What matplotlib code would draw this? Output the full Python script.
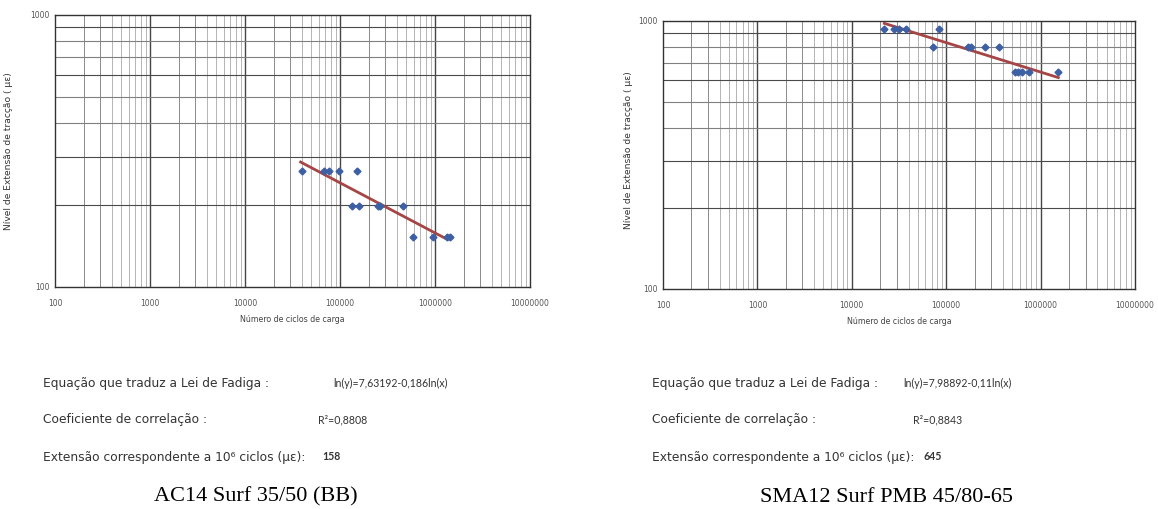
import numpy as np
import matplotlib
matplotlib.use("Agg")
import matplotlib.pyplot as plt
from matplotlib.ticker import FixedLocator, NullFormatter

# AC14 Surf 35/50 (BB) - fatigue test points and fitted law
ac14_cycles = [40100, 68400, 76600, 97500, 151000, 134000, 158000, 249000,
               264000, 465000, 583000, 953000, 1330000, 1430000]
ac14_strain = [267, 267, 267, 267, 267, 198, 198, 198, 198, 198, 153, 153, 153, 153]
ac14_fit_cycles = [38500, 1330000]
ac14_fit_strain = [288, 150]

# SMA12 Surf PMB 45/80-65
sma12_cycles = [22100, 28200, 31900, 37600, 72800, 83300, 172000, 185000,
                257000, 361000, 530000, 574000, 628000, 750000, 1540000]
sma12_strain = [937, 932, 932, 935, 797, 937, 797, 797, 797, 797, 645, 645, 645, 645, 645]
sma12_fit_cycles = [22100, 1540000]
sma12_fit_strain = [980, 615]

x_ticks = [100, 1000, 10000, 100000, 1000000, 10000000]
x_ticklabels = ["100", "1000", "10000", "100000", "1000000", "10000000"]
y_ticks = [100, 1000]
y_ticklabels = ["100", "1000"]

ac14_texts = ["ln(y)=7,63192-0,186ln(x)", "R²=0,8808", "158"]
sma12_texts = ["ln(y)=7,98892-0,11ln(x)", "R²=0,8843", "645"]
row_labels = ["Equação que traduz a Lei de Fadiga :",
              "Coeficiente de correlação :",
              "Extensão correspondente a 10⁶ ciclos (µε):"]
titles = ["AC14 Surf 35/50 (BB)", "SMA12 Surf PMB 45/80-65"]

W, H = 1158, 509
fig = plt.figure(figsize=(W / 100, H / 100), dpi=100)


def px_axes(x0, y0, x1, y1):
    return fig.add_axes([x0 / W, 1 - y1 / H, (x1 - x0) / W, (y1 - y0) / H])


def fatigue_panel(ax, cx, cy, fx, fy):
    ax.set_xscale("log")
    ax.set_yscale("log")
    ax.set_xlim(100, 1e7)
    ax.set_ylim(100, 1000)

    # grid: decades dark, the rest lighter
    minors = [m * 10 ** e for e in range(2, 7) for m in range(2, 10)]
    for v in minors:
        c = "#777777" if str(v)[0] in "23" else "#a8a8a8"
        ax.axvline(v, color=c, lw=0.6, zorder=1)
    for v in x_ticks[1:-1]:
        ax.axvline(v, color="#454545", lw=1.0, zorder=1)
    for v in range(200, 1000, 100):
        c = "#4a4a4a" if v in (200, 300, 600, 900) else "#808080"
        ax.axhline(v, color=c, lw=0.8, zorder=1)

    ax.plot(fx, fy, color="#a64545", lw=2.0, zorder=3)
    ax.plot(cx, cy, "D", color="#3d5fa3", ms=3.5, ls="none", zorder=4)

    ax.xaxis.set_major_locator(FixedLocator(x_ticks))
    ax.set_xticklabels(x_ticklabels)
    ax.yaxis.set_major_locator(FixedLocator(y_ticks))
    ax.set_yticklabels(y_ticklabels)
    ax.xaxis.set_minor_formatter(NullFormatter())
    ax.yaxis.set_minor_formatter(NullFormatter())
    ax.tick_params(which="both", length=0, labelsize=5.5, colors="#555555")
    ax.tick_params(axis="x", pad=9)
    ax.tick_params(axis="y", pad=4)
    for s in ax.spines.values():
        s.set_color("#333333")
        s.set_linewidth(1.0)
    ax.set_xlabel("Número de ciclos de carga", fontsize=5.7, color="#444444", labelpad=5)
    ax.set_ylabel("Nível de Extensão de tracção ( µε)", fontsize=6.6, color="#333333")


ax1 = px_axes(55, 15, 530, 287)
fatigue_panel(ax1, ac14_cycles, ac14_strain, ac14_fit_cycles, ac14_fit_strain)
ax1.yaxis.set_label_coords(-0.088, 0.5)

ax2 = px_axes(663, 21, 1135, 289)
fatigue_panel(ax2, sma12_cycles, sma12_strain, sma12_fit_cycles, sma12_fit_strain)
ax2.yaxis.set_label_coords(-0.063, 0.52)

# text block under each chart
rows_y = [383, 420, 457]
blocks = [(43, [333, 318, 322], ac14_texts), (652, [903, 913, 923], sma12_texts)]
for lx, vxs, vals in blocks:
    for yy, vx, lab, val in zip(rows_y, vxs, row_labels, vals):
        fig.text(lx / W, 1 - yy / H, lab, fontsize=8.8, color="#333333",
                 family="DejaVu Sans", va="center")
        fig.text(vx / W, 1 - yy / H, val, fontsize=7.6, color="#333333",
                 family="Lato", va="center",
                 weight="bold" if val.isdigit() else "normal")

fig.text(256 / W, 1 - 497 / H, titles[0], fontsize=16, family="Liberation Serif",
         ha="center", va="center")
fig.text(886 / W, 1 - 497 / H, titles[1], fontsize=16, family="Liberation Serif",
         ha="center", va="center")

fig.savefig("out.png", dpi=100)
